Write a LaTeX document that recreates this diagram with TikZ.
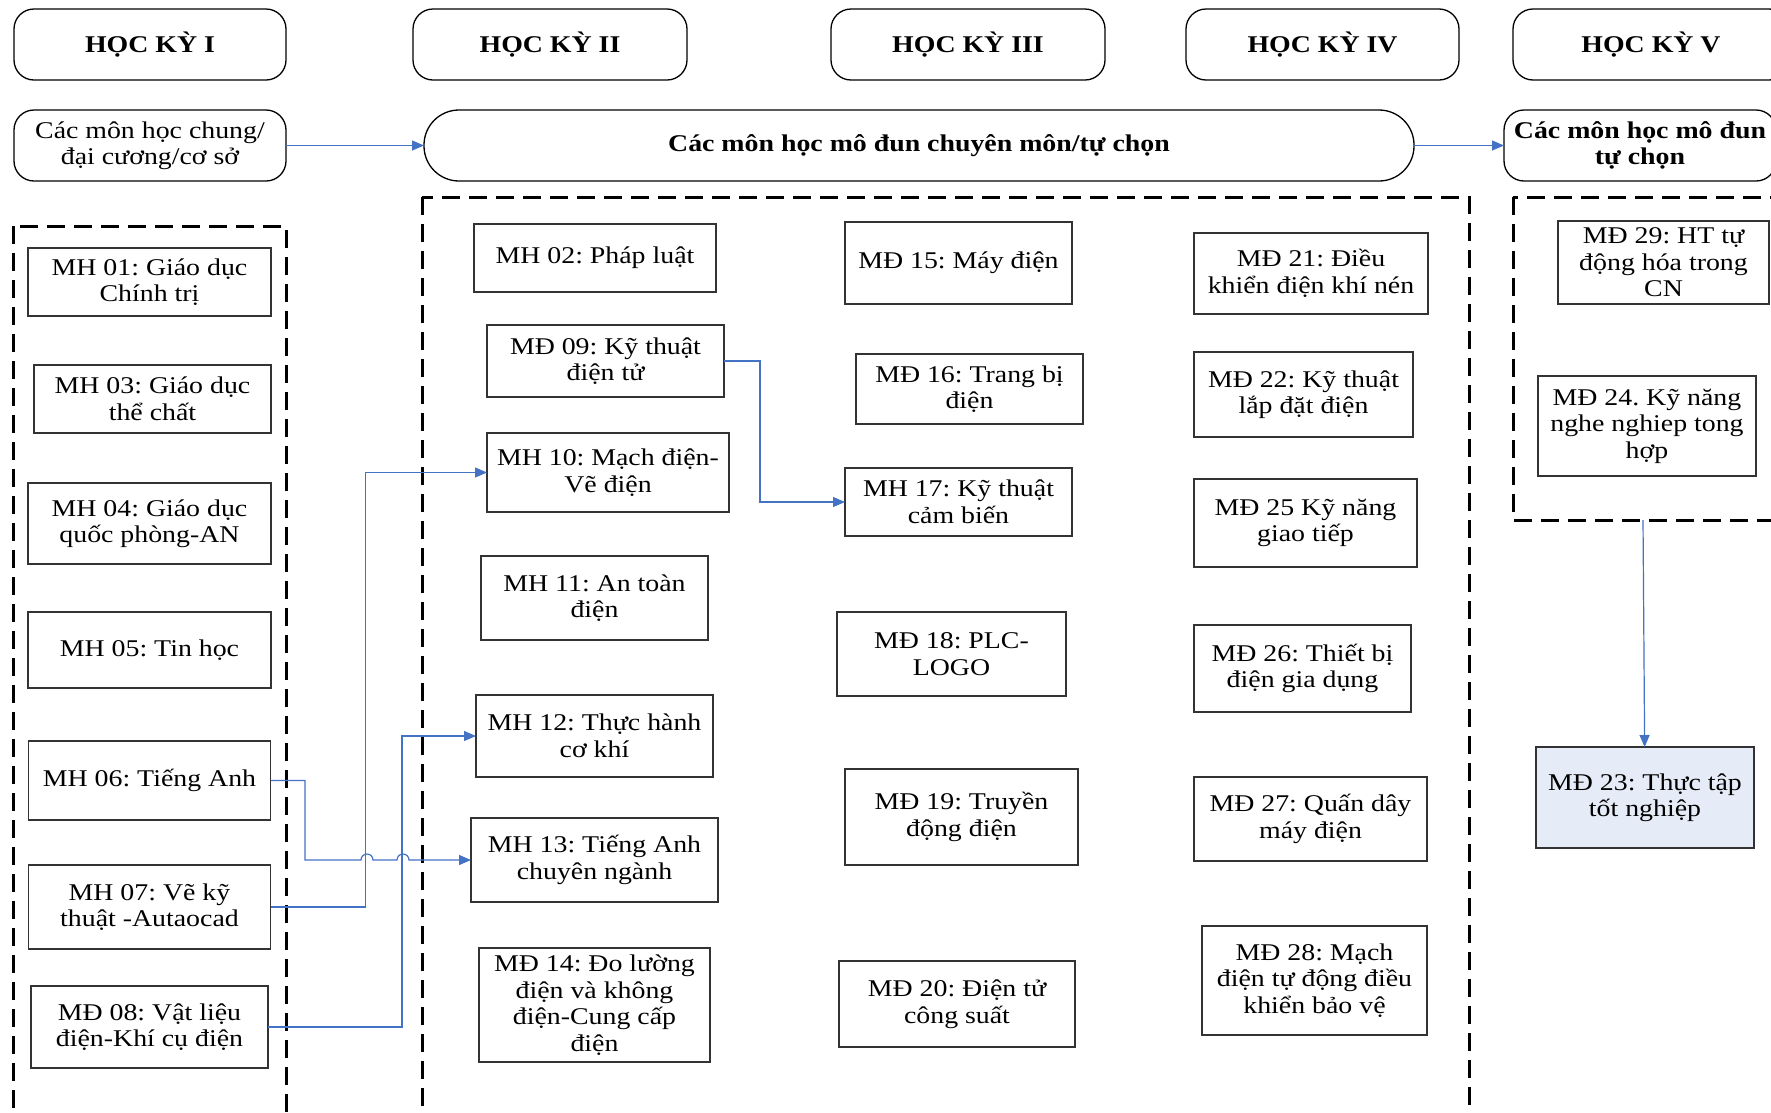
\documentclass[tikz,border=0pt]{standalone}
\usepackage{fontspec}
\setmainfont{Liberation Serif}[FakeStretch=1.16]
\usepackage{tikz}
\usetikzlibrary{arrows.meta,positioning}
\definecolor{linkblue}{HTML}{4472C4}
\definecolor{paleblue}{HTML}{E6ECF7}
\newcommand\boxfont{\fontsize{24}{26.5}\selectfont\frenchspacing}

\begin{document}
\begin{tikzpicture}[x=1pt, y=-1pt, align=center]
    \tikzset{
        n/.style        =   { rectangle
                            , draw=black!80
                            , line width=1.3pt
                            , inner sep=2pt
                            , outer sep=0pt
                            , font=\boxfont
        }
        , grp/.style    =   { rectangle
                            , rounded corners=20pt
                            , draw=black
                            , line width=1.3pt
                            , inner sep=2pt
                            , outer sep=0pt
                            , font=\boxfont
        }
        , hk/.style     =   { grp
                            , font=\boxfont\bfseries
        }
        , sz/.style 2 args = { minimum width=#1pt
                            , minimum height=#2pt
        }
        , arrow/.style  =   { draw=linkblue
                            , line width=1.2pt
                            , -{Triangle[length=12pt, width=10pt]}
        }
        , zone/.style   =   { draw=black
                            , line width=3pt
                            , dash pattern=on 18pt off 9pt
        }
    }
    \useasboundingbox (0,0) rectangle (1771,1112);
    \clip (0,0) rectangle (1771,1112);

    % hoc ky
    \node(hk1)[hk, sz={272}{71}] at (150,44.5) {HỌC KỲ I};
    \node(hk2)[hk, sz={274}{71}, right=127pt of hk1] {HỌC KỲ II};
    \node(hk3)[hk, sz={274}{71}, right=144pt of hk2] {HỌC KỲ III};
    \node(hk4)[hk, sz={273}{71}, right=81pt of hk3] {HỌC KỲ IV};
    \node(hk5)[hk, sz={276}{71}, right=54pt of hk4] {HỌC KỲ V};

    % nhom mon
    \node(chung)[grp, sz={272}{71}] at (150,145.5) {Các môn học chung/\\đại cương/cơ sở};
    \node(cm)[hk, rounded corners=35pt, sz={990}{71}, right=138pt of chung] {Các môn học mô đun chuyên môn/tự chọn};
    \node(tc)[hk, sz={272}{71}, right=90pt of cm] {Các môn học mô đun\\tự chọn};

    % khung
    \draw[zone] (13.5,226) rectangle (286,1140);
    \draw[zone] (422,197) rectangle (1469,1140);
    \draw[zone] (1513,197) rectangle (1800,520);
    \coordinate(drb) at (1643,520);

    % hoc ky I
    \node(mh01)[n, sz={243}{68}] at (149.5,282) {MH 01: Giáo dục\\Chính trị};
    \node(mh03)[n, sz={237}{68}, below=49pt of mh01, xshift=3pt] {MH 03: Giáo dục\\thể chất};
    \node(mh04)[n, sz={243}{81}, below=50pt of mh03, xshift=-3pt] {MH 04: Giáo dục\\quốc phòng-AN};
    \node(mh05)[n, sz={243}{76}, below=48pt of mh04] {MH 05: Tin học};
    \node(mh06)[n, sz={242}{79}, below=53pt of mh05] {MH 06: Tiếng Anh};
    \node(mh07)[n, sz={242}{84}, below=45pt of mh06] {MH 07: Vẽ kỹ\\thuật -Autaocad};
    \node(md08)[n, sz={237}{82}, below=37pt of mh07] {MĐ 08: Vật liệu\\điện-Khí cụ điện};

    % hoc ky II
    \node(mh02)[n, sz={242}{68}] at (595,258) {MH 02: Pháp luật};
    \node(md09)[n, sz={237}{72}, below=33pt of mh02, xshift=10.5pt] {MĐ 09: Kỹ thuật\\điện tử};
    \node(mh10)[n, sz={242}{79}, below=36pt of md09, xshift=2.5pt] {MH 10: Mạch điện-\\Vẽ điện};
    \node(mh11)[n, sz={227}{84}, below=44pt of mh10, xshift=-13.5pt] {MH 11: An toàn\\điện};
    \node(mh12)[n, sz={237}{82}, below=55pt of mh11] {MH 12: Thực hành\\cơ khí};
    \node(mh13)[n, sz={247}{84}, below=41pt of mh12] {MH 13: Tiếng Anh\\chuyên ngành};
    \node(md14)[n, sz={231}{114}, below=46pt of mh13] {MĐ 14: Đo lường\\điện và không\\điện-Cung cấp\\điện};

    % hoc ky III
    \node(md15)[n, sz={227}{82}] at (958.5,263) {MĐ 15: Máy điện};
    \node(md16)[n, sz={227}{70}, below=50pt of md15, xshift=11pt] {MĐ 16: Trang bị\\điện};
    \node(mh17)[n, sz={227}{68}, below=44pt of md16, xshift=-11pt] {MH 17: Kỹ thuật\\cảm biến};
    \node(md18)[n, sz={229}{84}, below=76pt of mh17, xshift=-7pt] {MĐ 18: PLC-\\LOGO};
    \node(md19)[n, sz={233}{96}, below=73pt of md18, xshift=10pt] {MĐ 19: Truyền\\động điện};
    \node(md20)[n, sz={236}{86}, below=96pt of md19, xshift=-4.5pt] {MĐ 20: Điện tử\\công suất};

    % hoc ky IV
    \node(md21)[n, sz={234}{81}] at (1311,273.5) {MĐ 21: Điều\\khiển điện khí nén};
    \node(md22)[n, sz={219}{85}, below=38pt of md21, xshift=-7.5pt] {MĐ 22: Kỹ thuật\\lắp đặt điện};
    \node(md25)[n, sz={223}{88}, below=42pt of md22, xshift=2pt] {MĐ 25 Kỹ năng\\giao tiếp};
    \node(md26)[n, sz={217}{87}, below=58pt of md25, xshift=-3pt] {MĐ 26: Thiết bị\\điện gia dụng};
    \node(md27)[n, sz={233}{84}, below=65pt of md26, xshift=8pt] {MĐ 27: Quấn dây\\máy điện};
    \node(md28)[n, sz={225}{109}, below=65pt of md27, xshift=4pt] {MĐ 28: Mạch\\điện tự động điều\\khiển bảo vệ};

    % hoc ky V
    \node(md29)[n, sz={211}{83}] at (1663.5,262.5) {MĐ 29: HT tự\\động hóa trong\\CN};
    \node(md24)[n, sz={218}{100}, below=72pt of md29, xshift=-16.5pt] {MĐ 24. Kỹ năng\\nghe nghiep tong\\hợp};
    \node(md23)[n, fill=paleblue, sz={218}{101}] at (1645,797.5) {MĐ 23: Thực tập\\tốt nghiệp};

    \draw[arrow] (chung) -- (cm);
    \draw[arrow] (cm) -- (tc);
    \draw[arrow] (mh06.east) -- ++(34.5,0) |- ([xshift=-110pt]mh13.west)
        arc[start angle=180, end angle=360, radius=6] -- ++(24,0)
        arc[start angle=180, end angle=360, radius=6] -- (mh13.west);
    \draw[arrow] (mh07.east) -- ++(95,0) |- (mh10.west);
    \draw[arrow] (md08.east) -- ++(134,0) |- (mh12.west);
    \draw[arrow] (md09.east) -- ++(36,0) |- (mh17.west);
    \draw[arrow] (drb) -- (md23);
\end{tikzpicture}
\end{document}
